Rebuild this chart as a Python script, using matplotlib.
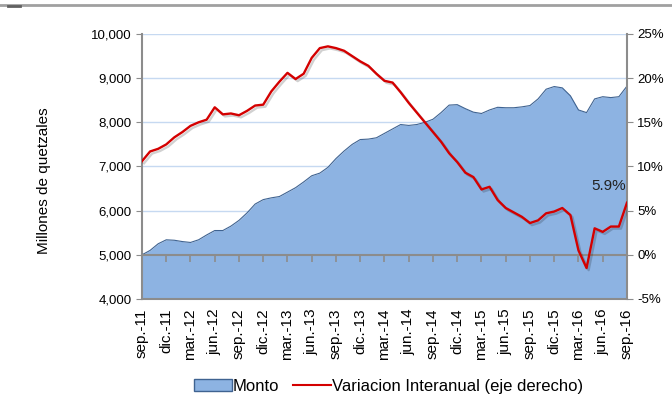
import numpy as np
import matplotlib
matplotlib.use("Agg")
import matplotlib.pyplot as plt
import matplotlib.patheffects as pe
from matplotlib.lines import Line2D
from matplotlib.patches import Patch
from matplotlib.ticker import FuncFormatter

plt.rcParams['font.family'] = ['Liberation Sans', 'DejaVu Sans']

# datos mensuales sep-11 .. sep-16
monto = [5000, 5100, 5250, 5340, 5330, 5300, 5280, 5340, 5450, 5550,
         5550, 5650, 5780, 5950, 6150, 6250, 6290, 6320, 6420, 6520,
         6650, 6790, 6850, 6980, 7180, 7350, 7500, 7610, 7620, 7650,
         7750, 7850, 7950, 7930, 7950, 8000, 8070, 8220, 8390, 8400,
         8310, 8230, 8200, 8280, 8340, 8330, 8330, 8350, 8380, 8530,
         8750, 8810, 8780, 8600, 8280, 8220, 8530, 8580, 8560, 8580,
         8820]
variacion = [10.6, 11.7, 12.0, 12.5, 13.3, 13.9, 14.6, 15.0, 15.3, 16.7,
             15.9, 16.0, 15.8, 16.3, 16.9, 17.0, 18.5, 19.6, 20.6, 19.9,
             20.5, 22.3, 23.4, 23.6, 23.4, 23.1, 22.5, 21.9, 21.4, 20.5,
             19.7, 19.5, 18.4, 17.2, 16.1, 15.0, 13.9, 12.8, 11.5, 10.5,
             9.3, 8.8, 7.4, 7.7, 6.2, 5.3, 4.8, 4.3, 3.6, 3.9,
             4.7, 4.9, 5.3, 4.5, 0.5, -1.5, 3.0, 2.6, 3.2, 3.2,
             5.9]
etiquetas = ['sep.-11', 'dic.-11', 'mar.-12', 'jun.-12', 'sep.-12', 'dic.-12',
             'mar.-13', 'jun.-13', 'sep.-13', 'dic.-13', 'mar.-14', 'jun.-14',
             'sep.-14', 'dic.-14', 'mar.-15', 'jun.-15', 'sep.-15', 'dic.-15',
             'mar.-16', 'jun.-16', 'sep.-16']

x = np.arange(len(monto))
gris = '#8c8c8c'
azul = '#8db3e2'
borde = '#3f6391'
rojo = '#d40000'

fig = plt.figure(figsize=(6.72, 4.12), dpi=100)
ax = fig.add_axes([0.2113, 0.2743, 0.7217, 0.6432])

ax.fill_between(x, monto, 4000, color=azul, lw=0, zorder=2)
ax.plot(x, monto, color=borde, lw=0.8, zorder=3)
ax.set_xlim(0, 60)
ax.set_ylim(4000, 10000)
ax.set_yticks(range(4000, 10001, 1000))
ax.yaxis.set_major_formatter(FuncFormatter(lambda v, p: f'{int(v):,}'))
ax.grid(axis='y', color='#c6d9f1', lw=1, zorder=0)
ax.set_axisbelow(True)
ax.set_ylabel('Millones de quetzales', fontsize=11)
ax.yaxis.set_label_coords(-0.188, 0.445)

ax.set_xticks(x[::3])
ax.set_xticklabels(etiquetas, rotation=90, fontsize=11)
ax.tick_params(axis='x', length=0, pad=7)
ax.tick_params(axis='y', labelsize=9.5, length=4, color=gris)
for s in ['top', 'right']:
    ax.spines[s].set_visible(False)
for s in ['left', 'bottom']:
    ax.spines[s].set_color(gris)
    ax.spines[s].set_linewidth(1.5)

# linea horizontal en 0% con marcas
sec = ax.secondary_xaxis(1 / 6)
sec.set_xticks(x[3:58:3])
sec.tick_params(axis='x', direction='out', length=5, color=gris, width=1.2,
                labelbottom=False, labeltop=False, bottom=True, top=False)
sec.spines['bottom'].set_color(gris)
sec.spines['bottom'].set_linewidth(1.5)
sec.xaxis.set_ticks_position('bottom')
sec.set_xticklabels([])
sec.set_zorder(4)

ax2 = ax.twinx()
ax2.plot(x, variacion, color=rojo, lw=1.7, zorder=5,
         path_effects=[pe.SimpleLineShadow(offset=(1.5, -1.5), alpha=0.18), pe.Normal()])
ax2.set_ylim(-5, 25)
ax2.set_yticks(range(-5, 26, 5))
ax2.yaxis.set_major_formatter(FuncFormatter(lambda v, p: f'{int(v)}%'))
ax2.tick_params(axis='y', labelsize=9.5, length=4, color=gris)
for s in ['top', 'left', 'bottom']:
    ax2.spines[s].set_visible(False)
ax2.spines['right'].set_color(gris)
ax2.spines['right'].set_linewidth(1.5)
ax2.annotate(f'{variacion[-1]}%', (x[-1], variacion[-1]), xytext=(-1, 7),
             textcoords='offset points', ha='right', va='bottom', fontsize=11,
             color='#222222')

handles = [Patch(facecolor=azul, edgecolor=borde, lw=1),
           Line2D([], [], color=rojo, lw=1.5)]
fig.legend(handles, ['Monto', 'Variacion Interanual (eje derecho)'],
           loc='center', bbox_to_anchor=(0.578, 0.063), ncol=2, frameon=False,
           fontsize=12, handlelength=2.3, handleheight=0.7, columnspacing=0.8,
           handletextpad=0.05)

fig.add_artist(Line2D([0, 1], [0.988, 0.988], color='#a0a0a0', lw=2))
fig.add_artist(Line2D([0.012, 0.03], [0.985, 0.985], color='#606060', lw=2))

fig.savefig('out.png', dpi=100)
